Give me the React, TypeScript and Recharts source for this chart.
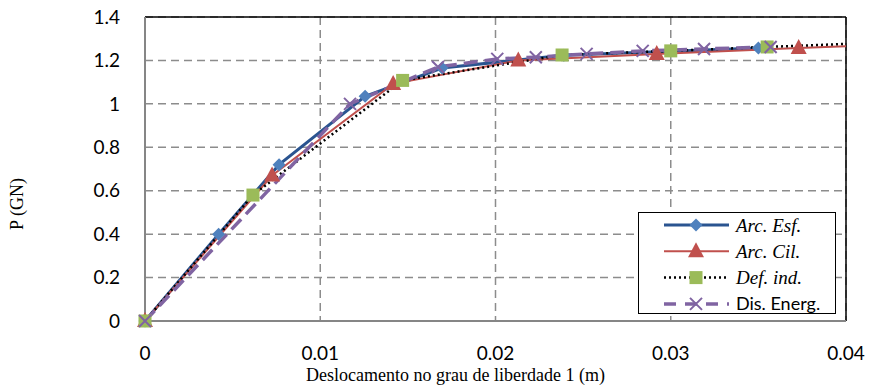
import { LineChart, Line, XAxis, YAxis, CartesianGrid, Legend, ReferenceLine } from 'recharts'

// axis ticks
const xTicks = [0, 0.01, 0.02, 0.03, 0.04]
const yTicks = [0, 0.2, 0.4, 0.6, 0.8, 1, 1.2, 1.4]

// Arc. Esf.
const esfX = [0, 0.0042, 0.00765, 0.01256, 0.01695, 0.0239, 0.035]
const esfY = [0, 0.4, 0.72, 1.035, 1.165, 1.224, 1.257]
// Arc. Cil. (last point is where the curve leaves the plot, no marker)
const cilX = [0, 0.00725, 0.01416, 0.0213, 0.0292, 0.0373, 0.04]
const cilY = [0, 0.67, 1.092, 1.2, 1.23, 1.257, 1.265]
// Def. ind.
const defX = [0, 0.00616, 0.0147, 0.0238, 0.03, 0.0355, 0.04]
const defY = [0, 0.58, 1.108, 1.225, 1.244, 1.262, 1.276]
// Dis. Energ.
const disX = [0, 0.0117, 0.01672, 0.0201, 0.0223, 0.0252, 0.0284, 0.0319, 0.0357]
const disY = [0, 1.0, 1.17, 1.207, 1.215, 1.23, 1.244, 1.253, 1.262]

const X_MAX = 0.04

const toPoints = (xs: number[], ys: number[]) => xs.map((x, i) => ({ x, y: ys[i] }))

const ESF_LINE = '#2A5490'
const ESF_MARK = '#4F81BD'
const CIL = '#C0504D'
const DEF_MARK = '#9BBB59'
const DIS = '#8064A2'

const TICK_FONT = { fontFamily: 'Lato', fontSize: 19, fill: '#000' }
const SERIF = '"Liberation Serif", "Times New Roman", serif'

const diamond = (cx: number, cy: number, r: number, fill: string, key?: string) => (
  <path key={key} d={`M${cx},${cy - r}L${cx + r},${cy}L${cx},${cy + r}L${cx - r},${cy}Z`} fill={fill} />
)
const triangle = (cx: number, cy: number, fill: string, key?: string) => (
  <path key={key} d={`M${cx},${cy - 9}L${cx + 8},${cy + 6}L${cx - 8},${cy + 6}Z`} fill={fill} />
)
const square = (cx: number, cy: number, fill: string, key?: string) => (
  <rect key={key} x={cx - 6.5} y={cy - 6.5} width={13} height={13} fill={fill} />
)
const cross = (cx: number, cy: number, stroke: string, key?: string) => (
  <path key={key} d={`M${cx - 6},${cy - 6}L${cx + 6},${cy + 6}M${cx + 6},${cy - 6}L${cx - 6},${cy + 6}`} stroke={stroke} strokeWidth={2} />
)

const edge = (p: any) => p.payload && p.payload.x >= X_MAX

const EsfDot = (p: any) => diamond(p.cx, p.cy, 6.5, ESF_MARK, `esf-${p.index}`)
const CilDot = (p: any) => (edge(p) ? <g key={`cil-${p.index}`} /> : triangle(p.cx, p.cy, CIL, `cil-${p.index}`))
const DefDot = (p: any) => (edge(p) ? <g key={`def-${p.index}`} /> : square(p.cx, p.cy, DEF_MARK, `def-${p.index}`))
const DisDot = (p: any) => cross(p.cx, p.cy, DIS, `dis-${p.index}`)

const legendRows = [
  { name: 'Arc. Esf.', italic: true },
  { name: 'Arc. Cil.', italic: true },
  { name: 'Def. ind.', italic: true },
  { name: 'Dis. Energ.', italic: false },
]

const renderLegend = () => (
  <svg width={198} height={102} style={{ display: 'block' }}>
    {legendRows.map((row, i) => {
      const y = 12 + i * 26.3
      return (
        <g key={row.name}>
          {i === 0 && (
            <>
              <line x1={25} x2={90} y1={y} y2={y} stroke={ESF_LINE} strokeWidth={3} />
              {diamond(57, y, 6.5, ESF_MARK)}
            </>
          )}
          {i === 1 && (
            <>
              <line x1={25} x2={90} y1={y} y2={y} stroke={CIL} strokeWidth={2} />
              {triangle(57, y, CIL)}
            </>
          )}
          {i === 2 && (
            <>
              <line x1={25} x2={90} y1={y} y2={y} stroke="#000" strokeWidth={2.5} strokeDasharray="2 3" />
              {square(57, y, DEF_MARK)}
            </>
          )}
          {i === 3 && (
            <>
              <line x1={25} x2={90} y1={y} y2={y} stroke={DIS} strokeWidth={3.5} strokeDasharray="12 9" />
              {cross(57, y, DIS)}
            </>
          )}
          <text
            x={97}
            y={y}
            dy="0.35em"
            fontFamily={row.italic ? SERIF : 'Lato'}
            fontStyle={row.italic ? 'italic' : 'normal'}
            fontSize={row.italic ? 19 : 18}
            fill="#000"
          >
            {row.name}
          </text>
        </g>
      )
    })}
  </svg>
)

export default function App() {
  return (
    <div style={{ position: 'absolute', left: 0, top: 0, width: 871, height: 390, background: '#fff' }}>
      <LineChart width={871} height={390} margin={{ top: 17, right: 25, bottom: 0, left: 0 }}>
        <CartesianGrid stroke="#8c8c8c" strokeWidth={1.5} strokeDasharray="8 5" />
        <XAxis
          type="number"
          dataKey="x"
          domain={[0, X_MAX]}
          ticks={xTicks}
          height={69}
          tickSize={0}
          tickMargin={26}
          tick={TICK_FONT}
          stroke="#868686"
          strokeWidth={2}
          label={{
            content: ({ viewBox }: any) => (
              <text
                x={viewBox.x + viewBox.width / 2 - 40}
                y={viewBox.y + 60}
                textAnchor="middle"
                fontFamily={SERIF}
                fontSize={18}
                fill="#000"
              >
                Deslocamento no grau de liberdade 1 (m)
              </text>
            ),
          }}
        />
        <YAxis
          type="number"
          dataKey="y"
          domain={[0, 1.4]}
          ticks={yTicks}
          width={145}
          tickSize={0}
          tickMargin={25}
          tick={TICK_FONT}
          stroke="#868686"
          strokeWidth={2}
          label={{
            content: ({ viewBox }: any) => {
              const cx = 17
              const cy = viewBox.y + viewBox.height / 2 + 35
              return (
                <text
                  x={cx}
                  y={cy}
                  transform={`rotate(-90, ${cx}, ${cy})`}
                  textAnchor="middle"
                  dy="0.35em"
                  fontFamily={SERIF}
                  fontSize={18}
                  fill="#000"
                >
                  P (GN)
                </text>
              )
            },
          }}
        />
        <ReferenceLine y={1.4} stroke="#000" strokeWidth={1.5} />
        <ReferenceLine x={X_MAX} stroke="#000" strokeWidth={1.5} />
        <Line
          data={toPoints(esfX, esfY)}
          dataKey="y"
          name="Arc. Esf."
          type="linear"
          stroke={ESF_LINE}
          strokeWidth={3}
          dot={EsfDot}
          activeDot={false}
          isAnimationActive={false}
        />
        <Line
          data={toPoints(cilX, cilY)}
          dataKey="y"
          name="Arc. Cil."
          type="linear"
          stroke={CIL}
          strokeWidth={2}
          dot={CilDot}
          activeDot={false}
          isAnimationActive={false}
        />
        <Line
          data={toPoints(defX, defY)}
          dataKey="y"
          name="Def. ind."
          type="linear"
          stroke="#000"
          strokeWidth={2.5}
          strokeDasharray="2 3"
          dot={DefDot}
          activeDot={false}
          isAnimationActive={false}
        />
        <Line
          data={toPoints(disX, disY)}
          dataKey="y"
          name="Dis. Energ."
          type="linear"
          stroke={DIS}
          strokeWidth={3.5}
          strokeDasharray="14 7"
          dot={DisDot}
          activeDot={false}
          isAnimationActive={false}
        />
        <Legend
          layout="vertical"
          align="center"
          verticalAlign="middle"
          content={renderLegend}
          wrapperStyle={{
            position: 'absolute',
            left: 638,
            top: 212,
            width: 198,
            height: 102,
            border: '1.5px solid #000',
            background: '#fff',
            boxSizing: 'border-box',
          }}
        />
      </LineChart>
    </div>
  )
}
